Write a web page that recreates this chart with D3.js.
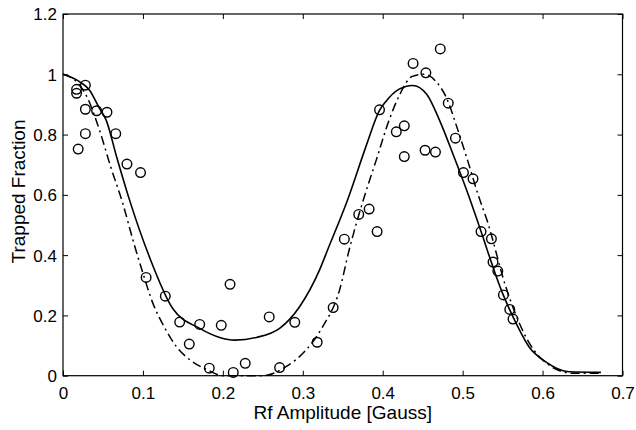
<!DOCTYPE html>
<html><head><meta charset="utf-8">
<script src="https://cdn.jsdelivr.net/npm/d3@7"></script>
<style>
body{margin:0;background:#fff;}
text{font-family:"Liberation Sans",Arial,Helvetica,sans-serif;fill:#000;}
</style></head>
<body><svg id="c" width="636" height="430"></svg>
<script>
// Measured data points (Rf amplitude [G], trapped fraction)
const pointX = [0.019,0.017,0.017,0.028,0.028,0.042,0.055,0.028,0.066,0.080,0.097,
  0.104,0.128,0.146,0.171,0.158,0.183,0.198,0.209,0.213,0.228,0.258,0.271,0.290,0.318,0.338,
  0.352,0.370,0.383,0.393,0.396,0.417,0.427,0.427,0.438,0.454,0.472,0.453,0.466,0.482,0.491,
  0.501,0.513,0.523,0.536,0.538,0.544,0.551,0.559,0.563];
const pointY = [0.752,0.950,0.937,0.964,0.884,0.879,0.874,0.803,0.803,0.702,0.674,
  0.326,0.264,0.178,0.170,0.105,0.025,0.167,0.303,0.011,0.041,0.195,0.027,0.177,0.111,0.226,
  0.453,0.535,0.553,0.478,0.882,0.809,0.829,0.727,1.036,1.005,1.084,0.748,0.742,0.904,0.788,
  0.674,0.653,0.478,0.454,0.377,0.347,0.268,0.220,0.188];

// Solid theory curve
const solidX = [0,0.021,0.033,0.046,0.054,0.067,0.083,0.108,0.1375,0.171,0.196,0.215,0.242,0.271,0.296,0.321,0.331,0.356,0.379,0.396,0.404,0.42,0.4375,0.455,0.471,0.4875,0.508,0.521,0.55,0.569,0.583,0.604,0.633,0.673];
const solidY = [1.0,0.975,0.948,0.885,0.848,0.727,0.585,0.395,0.222,0.157,0.127,0.118,0.127,0.157,0.229,0.351,0.417,0.583,0.76,0.88,0.91,0.95,0.963,0.934,0.848,0.738,0.594,0.494,0.273,0.163,0.096,0.046,0.013,0.011];

// Dash-dot theory curve
const dashX = [0,0.015,0.03,0.045,0.06,0.075,0.0875,0.1,0.1125,0.125,0.142,0.16,0.18,0.2,0.25,0.279,0.304,0.325,0.346,0.358,0.377,0.392,0.408,0.421,0.437,0.452,0.467,0.479,0.494,0.506,0.52,0.53,0.554,0.579,0.6,0.6375,0.671];
const dashY = [1.0,0.98,0.925,0.82,0.69,0.57,0.45,0.34,0.24,0.17,0.096,0.05,0.02,0.0,0.0,0.03,0.085,0.163,0.284,0.417,0.594,0.716,0.848,0.931,0.993,1.0,0.975,0.926,0.815,0.716,0.595,0.52,0.295,0.129,0.052,0.008,0.008];

const xTicks = [0,0.1,0.2,0.3,0.4,0.5,0.6,0.7];
const yTicks = [0,0.2,0.4,0.6,0.8,1,1.2];
const xLabel = "Rf Amplitude [Gauss]";
const yLabel = "Trapped Fraction";

const L=63, R=622.5, T=14, B=375.7;
const svg = d3.select("#c");
const x = d3.scaleLinear().domain([0,0.7]).range([L,R]);
const y = d3.scaleLinear().domain([0,1.2]).range([B,T]);

const fmt = d => d===0 ? "0" : (d===1 ? "1" : d3.format("~g")(d));

// axes with inward ticks
const gB = svg.append("g").attr("transform",`translate(0,${B})`)
  .call(d3.axisBottom(x).tickValues(xTicks).tickSizeInner(-5).tickSizeOuter(0).tickPadding(10).tickFormat(fmt));
const gT = svg.append("g").attr("transform",`translate(0,${T})`)
  .call(d3.axisTop(x).tickValues(xTicks).tickSizeInner(-5).tickSizeOuter(0).tickFormat(""));
const gL = svg.append("g").attr("transform",`translate(${L},0)`)
  .call(d3.axisLeft(y).tickValues(yTicks).tickSizeInner(-5).tickSizeOuter(0).tickPadding(10).tickFormat(fmt));
const gR = svg.append("g").attr("transform",`translate(${R},0)`)
  .call(d3.axisRight(y).tickValues(yTicks).tickSizeInner(-5).tickSizeOuter(0).tickFormat(""));
[gB,gT,gL,gR].forEach(g=>{
  g.select(".domain").remove();
  g.selectAll("line").attr("stroke","#000").attr("stroke-width",1);
  g.selectAll("text").attr("font-size","17px").attr("fill","#000")
   .attr("font-family","'Liberation Sans',Arial,sans-serif");
});
gB.selectAll("text").attr("dy","0.71em").attr("y",11);
gL.selectAll("text").attr("x",-6).attr("dy","0.35em");

svg.append("rect").attr("x",L).attr("y",T).attr("width",R-L).attr("height",B-T)
  .attr("fill","none").attr("stroke","#000").attr("stroke-width",1.2);

// curves
const line = d3.line().x(d=>x(d[0])).y(d=>y(d[1])).curve(d3.curveMonotoneX);
svg.append("path").datum(solidX.map((v,i)=>[v,solidY[i]]))
  .attr("d",line).attr("fill","none").attr("stroke","#000").attr("stroke-width",1.6);
svg.append("path").datum(dashX.map((v,i)=>[v,dashY[i]]))
  .attr("d",line).attr("fill","none").attr("stroke","#000").attr("stroke-width",1.5)
  .attr("stroke-dasharray","9,4,2,4");

// points
svg.append("g").selectAll("circle").data(pointX.map((v,i)=>[v,pointY[i]])).join("circle")
  .attr("cx",d=>x(d[0])).attr("cy",d=>y(d[1])).attr("r",4.8)
  .attr("fill","none").attr("stroke","#000").attr("stroke-width",1.4);

// labels
svg.append("text").attr("x",(L+R)/2).attr("y",419).attr("text-anchor","middle")
  .attr("font-size","19px").text(xLabel);
svg.append("text").attr("transform",`translate(25,191.5) rotate(-90)`).attr("text-anchor","middle")
  .attr("font-size","19px").text(yLabel);
</script></body></html>
